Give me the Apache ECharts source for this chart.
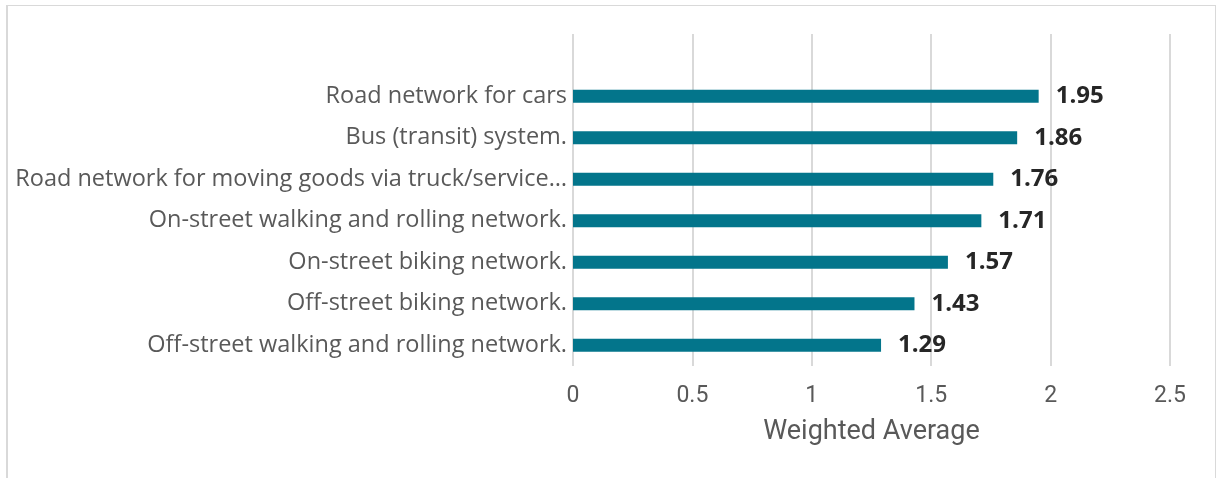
<!DOCTYPE html>
<html>
<head>
<meta charset="utf-8">
<script src="https://cdn.jsdelivr.net/npm/echarts@6/dist/echarts.min.js"></script>
<style>
  html, body { margin: 0; padding: 0; background: #fff; }
  #frame {
    position: absolute; left: 6px; top: 5px; width: 1210px; height: 480px;
    border-left: 2px solid #d9d9d9; border-top: 1px solid #d9d9d9; border-right: 1px solid #d9d9d9;
    box-sizing: border-box;
  }
  #chart { position: absolute; left: 0; top: 0; width: 1217px; height: 478px; }
</style>
</head>
<body>
<div id="frame"></div>
<div id="chart"></div>
<script>
// bottom to top; the empty top row is the blank band above the first bar
const categories = [
  'Off-street walking and rolling network.',
  'Off-street biking network.',
  'On-street biking network.',
  'On-street walking and rolling network.',
  'Road network for moving goods via truck/service…',
  'Bus (transit) system.',
  'Road network for cars',
  '',
]
const weightedAverage = [1.29, 1.43, 1.57, 1.71, 1.76, 1.86, 1.95, null]
const xTicks = [0, 0.5, 1, 1.5, 2, 2.5]

const chart = echarts.init(document.getElementById('chart'), null, {
  width: 1217,
  height: 478,
})

const labelFont = "'Open Sans', 'Noto Sans', sans-serif"
const axisFont = "Roboto, 'Open Sans', sans-serif"

const option = {
  animation: false,
  grid: {
    left: 573,
    right: 47,
    top: 34,
    bottom: 112,
  },
  xAxis: {
    type: 'value',
    min: xTicks[0],
    max: xTicks[xTicks.length - 1],
    interval: 0.5,
    axisLine: { show: false },
    axisTick: { show: false },
    splitLine: { lineStyle: { color: '#d9d9d9', width: 2 } },
    axisLabel: {
      color: '#595959',
      fontSize: 23,
      fontFamily: axisFont,
      margin: 19,
    },
    name: 'Weighted Average',
    nameLocation: 'middle',
    nameGap: 53,
    nameTextStyle: {
      color: '#595959',
      fontSize: 27,
      fontFamily: axisFont,
    },
  },
  yAxis: {
    type: 'category',
    data: categories,
    axisLine: { show: false },
    axisTick: { show: false },
    axisLabel: {
      color: '#595959',
      fontSize: 23.5,
      fontFamily: labelFont,
      margin: 6,
    },
  },
  series: [
    {
      type: 'bar',
      data: weightedAverage,
      barWidth: 13,
      itemStyle: { color: '#03758b' },
      label: {
        show: true,
        position: 'right',
        distance: 17,
        color: '#262626',
        fontSize: 24,
        fontWeight: 'bold',
        fontFamily: labelFont,
        formatter: (p) => p.value.toFixed(2),
      },
    },
  ],
}

option && chart.setOption(option)
</script>
</body>
</html>
